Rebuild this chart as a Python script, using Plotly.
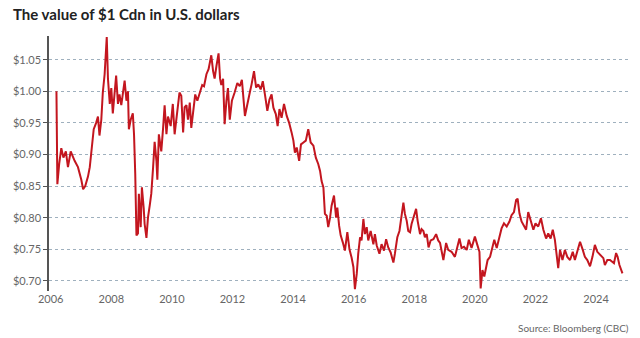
import plotly.graph_objects as go

years = [
    2006.19, 2006.22, 2006.28, 2006.35, 2006.42, 2006.50, 2006.57, 2006.66, 2006.79, 2006.90,
    2007.01, 2007.07, 2007.14, 2007.23, 2007.29, 2007.34, 2007.42, 2007.50, 2007.56, 2007.61,
    2007.67, 2007.72, 2007.78, 2007.85, 2007.89, 2007.95, 2008.00, 2008.05, 2008.11, 2008.16,
    2008.22, 2008.27, 2008.33, 2008.38, 2008.44, 2008.50, 2008.55, 2008.58, 2008.64, 2008.71,
    2008.75, 2008.79, 2008.83, 2008.88, 2008.91, 2008.97, 2009.01, 2009.07, 2009.10, 2009.16,
    2009.21, 2009.27, 2009.32, 2009.38, 2009.43, 2009.49, 2009.52, 2009.57, 2009.65, 2009.71,
    2009.76, 2009.82, 2009.87, 2009.96, 2010.03, 2010.09, 2010.18, 2010.25, 2010.31, 2010.37,
    2010.42, 2010.48, 2010.53, 2010.59, 2010.64, 2010.71, 2010.77, 2010.84, 2010.92, 2011.00,
    2011.06, 2011.14, 2011.21, 2011.30, 2011.36, 2011.41, 2011.47, 2011.54, 2011.59, 2011.63,
    2011.69, 2011.74, 2011.80, 2011.85, 2011.91, 2011.98, 2012.07, 2012.16, 2012.24, 2012.31,
    2012.41, 2012.49, 2012.58, 2012.63, 2012.71, 2012.78, 2012.85, 2012.93, 2013.00, 2013.07,
    2013.15, 2013.22, 2013.29, 2013.35, 2013.43, 2013.49, 2013.55, 2013.62, 2013.70, 2013.79,
    2013.87, 2013.95, 2014.01, 2014.06, 2014.12, 2014.20, 2014.26, 2014.34, 2014.42, 2014.50,
    2014.58, 2014.67, 2014.75, 2014.83, 2014.89, 2014.94, 2015.00, 2015.05, 2015.11, 2015.16,
    2015.22, 2015.27, 2015.35, 2015.42, 2015.46, 2015.52, 2015.57, 2015.64, 2015.71, 2015.79,
    2015.86, 2015.93, 2015.99, 2016.04, 2016.10, 2016.15, 2016.21, 2016.26, 2016.32, 2016.37,
    2016.43, 2016.48, 2016.56, 2016.65, 2016.70, 2016.76, 2016.85, 2016.92, 2017.00, 2017.07,
    2017.14, 2017.22, 2017.31, 2017.36, 2017.44, 2017.51, 2017.58, 2017.64, 2017.69, 2017.75,
    2017.80, 2017.86, 2017.91, 2017.99, 2018.06, 2018.11, 2018.19, 2018.24, 2018.30, 2018.35,
    2018.41, 2018.47, 2018.54, 2018.63, 2018.72, 2018.79, 2018.85, 2018.96, 2019.05, 2019.12,
    2019.23, 2019.34, 2019.42, 2019.49, 2019.56, 2019.64, 2019.73, 2019.80, 2019.89, 2020.00,
    2020.08, 2020.15, 2020.19, 2020.25, 2020.31, 2020.37, 2020.42, 2020.50, 2020.58, 2020.64,
    2020.72, 2020.80, 2020.88, 2020.96, 2021.05, 2021.14, 2021.21, 2021.29, 2021.36, 2021.41,
    2021.47, 2021.54, 2021.62, 2021.69, 2021.76, 2021.84, 2021.93, 2022.00, 2022.09, 2022.18,
    2022.26, 2022.35, 2022.42, 2022.50, 2022.57, 2022.64, 2022.70, 2022.75, 2022.81, 2022.89,
    2022.97, 2023.05, 2023.14, 2023.23, 2023.30, 2023.38, 2023.47, 2023.56, 2023.63, 2023.71,
    2023.80, 2023.88, 2023.96, 2024.04, 2024.13, 2024.24, 2024.29, 2024.37, 2024.46, 2024.54,
    2024.59, 2024.66, 2024.71, 2024.77, 2024.82, 2024.87,
]

usd_per_cad = [
    1.000, 0.853, 0.885, 0.910, 0.895, 0.905, 0.880, 0.905, 0.890, 0.880,
    0.860, 0.845, 0.850, 0.865, 0.880, 0.905, 0.940, 0.950, 0.960, 0.930,
    0.955, 0.998, 1.027, 1.086, 1.020, 0.980, 1.005, 0.965, 0.995, 1.025,
    0.980, 0.995, 0.978, 0.998, 1.017, 0.985, 1.000, 0.940, 0.955, 0.965,
    0.932, 0.870, 0.772, 0.775, 0.838, 0.785, 0.848, 0.815, 0.790, 0.768,
    0.800, 0.820, 0.838, 0.880, 0.920, 0.890, 0.860, 0.932, 0.905, 0.942,
    0.978, 0.932, 0.960, 0.945, 0.980, 0.932, 0.970, 0.998, 0.993, 0.935,
    0.975, 0.978, 0.955, 0.982, 0.942, 0.970, 0.995, 0.985, 0.998, 1.010,
    1.008, 1.027, 1.035, 1.057, 1.032, 1.020, 1.040, 1.060, 1.020, 1.010,
    1.020, 0.948, 0.985, 1.005, 0.955, 0.985, 0.998, 1.013, 1.008, 1.018,
    0.961, 0.982, 1.000, 1.011, 1.032, 1.006, 1.011, 1.003, 1.016, 0.995,
    0.969, 0.987, 0.995, 0.974, 0.964, 0.945, 0.972, 0.958, 0.980, 0.961,
    0.950, 0.935, 0.922, 0.903, 0.911, 0.890, 0.916, 0.919, 0.922, 0.940,
    0.919, 0.914, 0.895, 0.885, 0.874, 0.858, 0.848, 0.806, 0.803, 0.785,
    0.800, 0.819, 0.835, 0.800, 0.816, 0.787, 0.772, 0.761, 0.748, 0.777,
    0.750, 0.737, 0.722, 0.687, 0.711, 0.743, 0.769, 0.764, 0.798, 0.774,
    0.785, 0.764, 0.779, 0.758, 0.774, 0.756, 0.743, 0.758, 0.748, 0.766,
    0.753, 0.745, 0.729, 0.743, 0.769, 0.779, 0.803, 0.824, 0.806, 0.795,
    0.779, 0.777, 0.790, 0.803, 0.814, 0.795, 0.774, 0.782, 0.779, 0.769,
    0.774, 0.753, 0.764, 0.766, 0.774, 0.764, 0.760, 0.733, 0.760, 0.749,
    0.746, 0.738, 0.754, 0.767, 0.752, 0.754, 0.749, 0.765, 0.752, 0.770,
    0.757, 0.746, 0.688, 0.717, 0.707, 0.723, 0.733, 0.738, 0.754, 0.765,
    0.752, 0.767, 0.783, 0.791, 0.786, 0.794, 0.804, 0.809, 0.828, 0.830,
    0.807, 0.794, 0.786, 0.781, 0.809, 0.796, 0.781, 0.791, 0.786, 0.799,
    0.781, 0.767, 0.775, 0.767, 0.781, 0.765, 0.738, 0.720, 0.749, 0.733,
    0.749, 0.738, 0.733, 0.746, 0.733, 0.749, 0.762, 0.749, 0.738, 0.733,
    0.723, 0.738, 0.757, 0.746, 0.741, 0.736, 0.725, 0.733, 0.733, 0.730,
    0.728, 0.744, 0.738, 0.725, 0.717, 0.712,
]

x_tick_vals = [2006, 2008, 2010, 2012, 2014, 2016, 2018, 2020, 2022, 2024]
x_tick_text = ["2006", "2008", "2010", "2012", "2014", "2016", "2018", "2020", "2022", "2024"]
y_tick_vals = [0.70, 0.75, 0.80, 0.85, 0.90, 0.95, 1.00, 1.05]
y_tick_text = ["$0.70", "$0.75", "$0.80", "$0.85", "$0.90", "$0.95", "$1.00", "$1.05"]

fig = go.Figure()
fig.add_trace(go.Scatter(
    x=years, y=usd_per_cad, mode="lines",
    line=dict(color="#c3161f", width=2),
    hoverinfo="skip", showlegend=False,
))

fig.update_layout(
    width=640, height=338,
    margin=dict(l=49, r=12, t=36, b=47),
    paper_bgcolor="white", plot_bgcolor="white",
    font=dict(family="Lato", color="#666666", size=11),
    title=dict(
        text="<b>The value of $1 Cdn in U.S. dollars</b>",
        x=13/640, xanchor="left", xref="container",
        y=1 - 15/338, yanchor="middle", yref="container",
        font=dict(family="Lato", size=15, color="#222222"),
    ),
    xaxis=dict(
        range=[2005.944, 2025.053],
        tickvals=x_tick_vals, ticktext=x_tick_text,
        showgrid=False, zeroline=False, showline=False, ticks="",
        tickfont=dict(size=11, color="#666666"),
    ),
    yaxis=dict(
        range=[0.684, 1.0875],
        tickvals=y_tick_vals, ticktext=y_tick_text,
        showgrid=True, gridcolor="#9fb0be", griddash="dot", gridwidth=1,
        zeroline=False,
        showline=True, linecolor="#555555", linewidth=1.5,
        ticks="outside", ticklen=4, tickcolor="#555555", tickwidth=1,
        tickfont=dict(size=11, color="#666666"),
    ),
    annotations=[dict(
        text="Source: Bloomberg (CBC)",
        xref="paper", yref="paper", x=1, y=0,
        xanchor="right", yanchor="middle", xshift=3, yshift=-37,
        showarrow=False, font=dict(family="Lato", size=10, color="#666666"),
    )],
)

fig.write_html("out.html")
